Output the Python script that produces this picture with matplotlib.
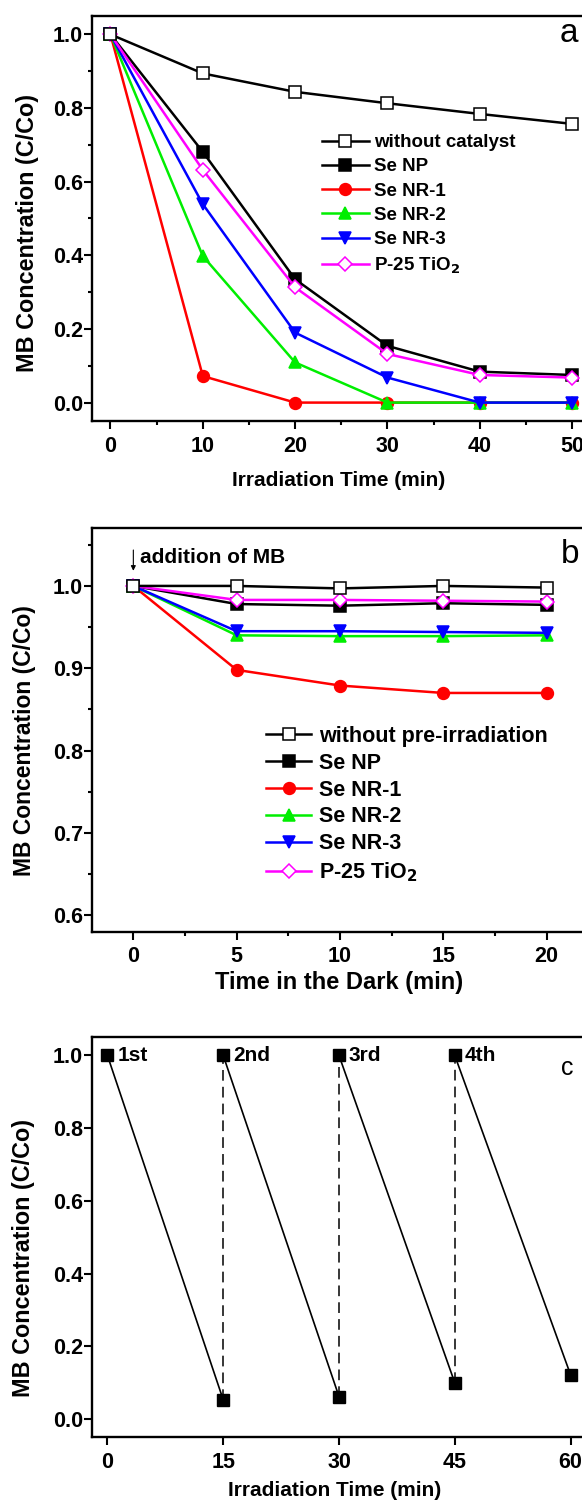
import matplotlib
matplotlib.use("Agg")
import matplotlib.pyplot as plt
from matplotlib.ticker import MultipleLocator

plt.rcParams["font.family"] = ["Liberation Sans", "DejaVu Sans"]
plt.rcParams["font.weight"] = "bold"
plt.rcParams["mathtext.default"] = "bf"
plt.rcParams["axes.linewidth"] = 1.7

# panel a: photocatalytic degradation
t_a = [0, 10, 20, 30, 40, 50]
a_without = [1.0, 0.894, 0.844, 0.813, 0.784, 0.757]
a_senp = [1.0, 0.681, 0.335, 0.154, 0.084, 0.075]
a_nr1 = [1.0, 0.072, 0.0, 0.0, 0.0, 0.0]
a_nr2 = [1.0, 0.398, 0.109, 0.0, 0.0, 0.0]
a_nr3 = [1.0, 0.539, 0.190, 0.068, 0.0, 0.0]
a_p25 = [1.0, 0.632, 0.313, 0.132, 0.075, 0.068]

# panel b: adsorption in the dark
t_b = [0, 5, 10, 15, 20]
b_without = [1.0, 1.0, 0.997, 1.0, 0.998]
b_senp = [1.0, 0.978, 0.976, 0.979, 0.977]
b_nr1 = [1.0, 0.898, 0.879, 0.870, 0.870]
b_nr2 = [1.0, 0.940, 0.939, 0.939, 0.940]
b_nr3 = [1.0, 0.945, 0.945, 0.944, 0.943]
b_p25 = [1.0, 0.983, 0.983, 0.982, 0.981]

# panel c: recycling runs
cycle_labels = ["1st", "2nd", "3rd", "4th"]
cycle_start = [0, 15, 30, 45]
cycle_end = [15, 30, 45, 60]
c_start = [1.0, 1.0, 1.0, 1.0]
c_end = [0.053, 0.062, 0.100, 0.122]

W, H = 582, 1501
fig = plt.figure(figsize=(W / 100, H / 100), dpi=100)


def px_axes(left, top, right, bottom):
    return fig.add_axes([left / W, 1 - bottom / H, (right - left) / W, (bottom - top) / H])


def style(ax, fs=15.5):
    ax.spines["right"].set_visible(False)
    ax.tick_params(which="both", direction="out", width=1.5, top=False, right=False)
    ax.tick_params(which="major", length=5.5)
    ax.tick_params(which="minor", length=3)
    ax.tick_params(axis="y", which="major", pad=0.8, labelsize=fs)
    ax.tick_params(axis="x", which="major", pad=5, labelsize=fs)


series = [
    ("without catalyst", "k", "s", "white", 6),
    ("Se NP", "k", "s", "k", 2),
    ("Se NR-1", "#ff0000", "o", "#ff0000", 1),
    ("Se NR-2", "#00ee00", "^", "#00ee00", 3),
    ("Se NR-3", "#0000ff", "v", "#0000ff", 4),
    ("P-25 TiO$_2$", "#ff00ff", "D", "white", 5),
]

# ---- panel a
ax = px_axes(92, 16, 590.6, 421)
handles = []
for (lab, col, mk, fc, z), y in zip(series, [a_without, a_senp, a_nr1, a_nr2, a_nr3, a_p25]):
    ms = 7.5 if mk == "D" else 8.5
    h, = ax.plot(t_a, y, color=col, lw=1.8, marker=mk, ms=ms, mfc=fc, mec=col, mew=1.1, zorder=z, label=lab)
    handles.append(h)
ax.set_xlim(-2, 52)
ax.set_ylim(-0.05, 1.05)
ax.xaxis.set_major_locator(MultipleLocator(10))
ax.xaxis.set_minor_locator(MultipleLocator(5))
ax.yaxis.set_major_locator(MultipleLocator(0.2))
ax.yaxis.set_minor_locator(MultipleLocator(0.1))
ax.yaxis.set_major_formatter(plt.FormatStrFormatter("%.1f"))
style(ax)
ax.set_xlabel("Irradiation Time (min)", fontsize=15, fontweight="bold", va="center")
ax.xaxis.set_label_coords(0.495, -0.146)
ax.set_ylabel("MB Concentration (C/Co)", fontsize=16.8, fontweight="bold", va="center")
ax.yaxis.set_label_coords(-0.130, 0.463)
ax.legend(handles=handles, loc="upper left", bbox_to_anchor=(322 / W, 1 - 134 / H),
          bbox_transform=fig.transFigure, frameon=False, fontsize=13.5, handlelength=2.5,
          handletextpad=0.3, labelspacing=0.38, borderpad=0, borderaxespad=0)
fig.text(560 / W, 1 - 34 / H, "a", fontsize=24, fontweight="normal", va="center", ha="left")

# ---- panel b
ax = px_axes(92, 528.3, 588, 931.7)
handles = []
labels_b = ["without pre-irradiation"] + [s[0] for s in series[1:]]
for (lab, col, mk, fc, z), lab2, y in zip(series, labels_b, [b_without, b_senp, b_nr1, b_nr2, b_nr3, b_p25]):
    ms = 7.5 if mk == "D" else 8.5
    h, = ax.plot(t_b, y, color=col, lw=1.8, marker=mk, ms=ms, mfc=fc, mec=col, mew=1.1, zorder=z, label=lab2)
    handles.append(h)
ax.set_xlim(-2, 22)
ax.set_ylim(0.58, 1.07)
ax.xaxis.set_major_locator(MultipleLocator(5))
ax.xaxis.set_minor_locator(MultipleLocator(2.5))
ax.yaxis.set_major_locator(MultipleLocator(0.1))
ax.yaxis.set_minor_locator(MultipleLocator(0.05))
ax.yaxis.set_major_formatter(plt.FormatStrFormatter("%.1f"))
style(ax)
ax.set_xlabel("Time in the Dark (min)", fontsize=17, fontweight="bold", va="center")
ax.xaxis.set_label_coords(0.498, -0.127)
ax.set_ylabel("MB Concentration (C/Co)", fontsize=16.5, fontweight="bold", va="center")
ax.yaxis.set_label_coords(-0.137, 0.473)
ax.legend(handles=handles, loc="upper left", bbox_to_anchor=(266 / W, 1 - 726 / H),
          bbox_transform=fig.transFigure, frameon=False, fontsize=15.5, handlelength=2.1,
          handletextpad=0.35, labelspacing=0.27, borderpad=0, borderaxespad=0)
ax.annotate("", xy=(0, 1.015), xytext=(0, 1.047),
            arrowprops=dict(arrowstyle="-|>", lw=0.8, color="k", mutation_scale=7))
ax.text(0.3, 1.035, "addition of MB", fontsize=15, fontweight="bold", va="center", ha="left")
fig.text(561 / W, 1 - 554 / H, "b", fontsize=24, fontweight="normal", va="center", ha="left")

# ---- panel c
ax = px_axes(92, 1037.3, 586, 1437.3)
for x0, x1, y0, y1 in zip(cycle_start, cycle_end, c_start, c_end):
    ax.plot([x0, x1], [y0, y1], color="k", lw=1.2, zorder=2)
for x1, y1, y0 in zip(cycle_end[:-1], c_end[:-1], c_start[1:]):
    ax.plot([x1, x1], [y1, y0], color="k", lw=1.1, dashes=(7, 4), zorder=2)
ax.plot(cycle_start, c_start, ls="none", marker="s", ms=8.5, color="k", zorder=3)
ax.plot(cycle_end, c_end, ls="none", marker="s", ms=8.5, color="k", zorder=3)
for lab, x0, y0 in zip(cycle_labels, cycle_start, c_start):
    ax.annotate(lab, (x0, y0), xytext=(7, 0), textcoords="offset points",
                fontsize=15, fontweight="bold", va="center", ha="left")
ax.set_xlim(-2, 62)
ax.set_ylim(-0.05, 1.05)
ax.xaxis.set_major_locator(MultipleLocator(15))
ax.yaxis.set_major_locator(MultipleLocator(0.2))
ax.yaxis.set_major_formatter(plt.FormatStrFormatter("%.1f"))
style(ax)
ax.set_xlabel("Irradiation Time (min)", fontsize=15, fontweight="bold", va="center")
ax.xaxis.set_label_coords(0.492, -0.132)
ax.set_ylabel("MB Concentration (C/Co)", fontsize=16.8, fontweight="bold", va="center")
ax.yaxis.set_label_coords(-0.138, 0.4475)
fig.text(560.5 / W, 1 - 1068 / H, "c", fontsize=18, fontweight="normal", va="center", ha="left")

fig.savefig("out.png", dpi=100)
